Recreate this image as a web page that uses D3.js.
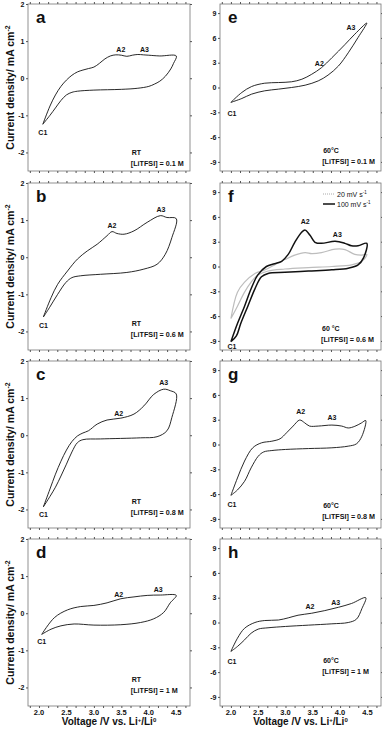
<!DOCTYPE html>
<html>
<head>
<meta charset="utf-8">
<title>CV panels</title>
<script src="https://cdn.jsdelivr.net/npm/d3@7/dist/d3.min.js"></script>
<style>
  body { margin: 0; background: #fff; }
  svg text { font-family: "Liberation Sans", Arial, sans-serif; font-weight: bold; fill: #111; }
</style>
</head>
<body>
<svg id="chart" width="382" height="729"></svg>
<script>
// ---- data: [voltage, current] ----
// RT panels (mA cm-2)
var aFwd = [[2.07,-1.24],[2.2,-0.75],[2.3,-0.45],[2.4,-0.22],[2.5,-0.05],[2.6,0.08],[2.7,0.17],[2.8,0.22],[2.9,0.26],[3.0,0.3],[3.1,0.4],[3.2,0.52],[3.3,0.6],[3.4,0.63],[3.5,0.62],[3.6,0.59],[3.7,0.62],[3.8,0.64],[3.9,0.63],[4.0,0.62],[4.2,0.6],[4.5,0.6]];
var aRev = [[4.45,0.4],[4.4,0.25],[4.3,0.05],[4.2,-0.08],[4.1,-0.16],[4.0,-0.22],[3.8,-0.27],[3.5,-0.3],[3.0,-0.32],[2.7,-0.35],[2.6,-0.38],[2.5,-0.45],[2.4,-0.6],[2.3,-0.8],[2.2,-1.0]];

var bFwd = [[2.08,-1.61],[2.22,-1.09],[2.34,-0.73],[2.52,-0.37],[2.7,-0.05],[2.88,0.17],[3.06,0.35],[3.24,0.58],[3.33,0.69],[3.42,0.64],[3.55,0.62],[3.73,0.71],[3.97,0.94],[4.21,1.12],[4.33,1.07],[4.5,1.04]];
var bRev = [[4.42,0.53],[4.3,0.08],[4.15,-0.19],[3.91,-0.32],[3.6,-0.41],[3.12,-0.46],[2.76,-0.5],[2.6,-0.55],[2.49,-0.68],[2.34,-1.0],[2.19,-1.36]];

var cFwd = [[2.08,-1.93],[2.2,-1.45],[2.3,-1.05],[2.4,-0.7],[2.5,-0.4],[2.6,-0.17],[2.7,-0.02],[2.8,0.06],[2.9,0.12],[3.06,0.3],[3.24,0.41],[3.49,0.46],[3.73,0.57],[3.91,0.79],[4.09,1.1],[4.27,1.24],[4.39,1.2],[4.5,1.11]];
var cRev = [[4.42,0.48],[4.33,0.12],[4.15,-0.04],[3.85,-0.07],[3.12,-0.1],[2.8,-0.12],[2.7,-0.2],[2.6,-0.45],[2.5,-0.78],[2.4,-1.1],[2.3,-1.4],[2.2,-1.65]];

var dFwd = [[2.05,-0.57],[2.28,-0.12],[2.52,0.09],[2.76,0.18],[3.0,0.21],[3.24,0.28],[3.49,0.39],[3.73,0.44],[3.97,0.48],[4.21,0.49],[4.5,0.48]];
var dRev = [[4.39,0.28],[4.27,0.02],[4.09,-0.15],[3.85,-0.25],[3.49,-0.31],[3.0,-0.32],[2.64,-0.29],[2.4,-0.34],[2.22,-0.43]];

// 60 °C panels
var eFwd = [[2.0,-1.8],[2.2,-0.6],[2.38,0.12],[2.62,0.52],[2.87,0.6],[3.11,0.69],[3.3,1.0],[3.48,1.6],[3.66,2.4],[3.85,3.6],[4.09,5.2],[4.27,6.45],[4.49,7.8]];
var eRev = [[4.33,6.05],[4.15,4.2],[3.97,2.6],[3.78,1.5],[3.6,0.8],[3.36,0.28],[3.11,0.0],[2.87,-0.2],[2.62,-0.4],[2.38,-0.8],[2.2,-1.33]];

var fFwd = [[2.0,-9.1],[2.12,-6.9],[2.25,-4.8],[2.37,-2.7],[2.49,-1.05],[2.65,0.0],[2.8,0.33],[2.93,0.63],[3.05,1.46],[3.17,2.93],[3.3,4.18],[3.36,4.4],[3.45,3.77],[3.54,2.93],[3.66,2.8],[3.91,3.05],[4.09,2.8],[4.21,2.5],[4.33,2.5],[4.49,2.8]];
var fRev = [[4.43,1.05],[4.33,0.2],[4.15,-0.2],[3.85,-0.4],[3.42,-0.55],[2.99,-0.7],[2.68,-0.84],[2.56,-1.25],[2.44,-2.7],[2.31,-4.8],[2.18,-6.9],[2.1,-8.4]];
// 20 mV s-1 trace in panel f
var fSlowFwd = [[2.0,-6.3],[2.12,-3.1],[2.25,-1.9],[2.44,-0.84],[2.62,-0.42],[2.8,0.2],[2.99,0.84],[3.17,1.38],[3.36,1.67],[3.48,1.55],[3.66,1.67],[3.91,2.1],[4.09,2.05],[4.27,1.46],[4.4,1.38],[4.49,1.46]];
var fSlowRev = [[4.4,0.63],[4.21,0.2],[3.85,0.0],[3.42,-0.13],[2.99,-0.3],[2.68,-0.54],[2.49,-1.05],[2.37,-1.9],[2.25,-3.1],[2.12,-4.8]];

var gFwd = [[2.0,-6.15],[2.12,-4.05],[2.25,-2.0],[2.4,-0.4],[2.56,0.2],[2.75,0.4],[2.9,0.69],[3.02,1.42],[3.14,2.23],[3.26,2.96],[3.35,2.63],[3.44,2.23],[3.6,2.23],[3.85,2.35],[4.03,2.23],[4.15,2.0],[4.27,2.2],[4.39,2.6],[4.47,2.9]];
var gRev = [[4.4,1.0],[4.3,0.08],[4.15,-0.2],[3.85,-0.4],[3.42,-0.49],[3.0,-0.6],[2.75,-0.73],[2.6,-0.9],[2.5,-1.42],[2.37,-2.83],[2.25,-4.45],[2.12,-5.5]];

var hFwd = [[2.0,-3.5],[2.12,-1.9],[2.25,-0.7],[2.44,0.0],[2.62,0.24],[2.87,0.3],[3.05,0.56],[3.23,0.88],[3.48,1.12],[3.72,1.44],[3.97,1.84],[4.21,2.3],[4.47,3.0]];
var hRev = [[4.4,1.68],[4.3,0.4],[4.15,0.0],[3.85,-0.16],[3.42,-0.32],[3.0,-0.48],[2.68,-0.64],[2.5,-0.8],[2.37,-1.3],[2.25,-2.1],[2.12,-2.9]];

// tick labels
var xTicks = [2.0, 2.5, 3.0, 3.5, 4.0, 4.5];
var rtTicks = [-2, -1, 0, 1, 2];
var hotTicks = [-9, -6, -3, 0, 3, 6, 9];

// ---- layout ----
var svg = d3.select("#chart");
var colX = [28, 220], colW = [162, 161];
var rowY = [4, 183, 361, 539], panelH = 167;

var panels = [
  {id: "a", col: 0, row: 0, fwd: aFwd, rev: aRev, cond: "RT", conc: "0.1 M", c1: [2.07, -1.52], a2: [3.49, 0.72], a3: [3.92, 0.72], note: [3.69, -2.07]},
  {id: "b", col: 0, row: 1, fwd: bFwd, rev: bRev, cond: "RT", conc: "0.6 M", c1: [2.08, -1.9], a2: [3.33, 0.8], a3: [4.22, 1.22], note: [3.69, -1.85]},
  {id: "c", col: 0, row: 2, fwd: cFwd, rev: cRev, cond: "RT", conc: "0.8 M", c1: [2.08, -2.2], a2: [3.45, 0.52], a3: [4.27, 1.34], note: [3.69, -1.85]},
  {id: "d", col: 0, row: 3, fwd: dFwd, rev: dRev, cond: "RT", conc: "1 M", c1: [2.05, -0.83], a2: [3.45, 0.45], a3: [4.17, 0.58], note: [3.69, -1.85]},
  {id: "e", col: 1, row: 0, fwd: eFwd, rev: eRev, cond: "60°C", conc: "0.1 M", c1: [2.02, -3.4], a2: [3.62, 2.6], a3: [4.2, 6.9], note: [3.69, -7.92]},
  {id: "f", col: 1, row: 1, fwd: fFwd, rev: fRev, cond: "60 °C", conc: "0.6 M", c1: [2.02, -10.0], a2: [3.36, 5.2], a3: [3.95, 3.6], note: [3.67, -7.8]},
  {id: "g", col: 1, row: 2, fwd: gFwd, rev: gRev, cond: "60°C", conc: "0.8 M", c1: [2.02, -7.6], a2: [3.28, 3.7], a3: [3.85, 3.0], note: [3.69, -7.68]},
  {id: "h", col: 1, row: 3, fwd: hFwd, rev: hRev, cond: "60°C", conc: "1 M", c1: [2.02, -5.0], a2: [3.45, 1.6], a3: [3.92, 2.1], note: [3.69, -4.9]}
];

var line = d3.line().curve(d3.curveCatmullRom.alpha(0.5));
// minor x ticks: two between each labelled 0.5 V step
var minorX = d3.range(-1, 17).map(function(i) { return 2 + i / 6; });

panels.forEach(function(p) {
  var x0 = colX[p.col], w = colW[p.col], y0 = rowY[p.row];
  var hot = p.col === 1;
  var x = d3.scaleLinear().domain([1.8, 4.75]).range([x0, x0 + w]);
  var y = d3.scaleLinear().domain(hot ? [-10.1, 10.1] : [-2.5, 2]).range([y0 + panelH, y0]);
  var g = svg.append("g");

  // frame
  g.append("rect").attr("x", x0).attr("y", y0).attr("width", w).attr("height", panelH)
    .attr("fill", "none").attr("stroke", "#777").attr("stroke-width", 0.8);

  // bottom / top ticks
  g.append("g").attr("transform", "translate(0," + (y0 + panelH) + ")").call(d3.axisBottom(x).tickValues(minorX).tickSize(2).tickFormat(""))
    .call(function(s) { s.select(".domain").remove(); s.selectAll("line").attr("stroke", "#555"); });
  g.append("g").attr("transform", "translate(0," + y0 + ")").call(d3.axisTop(x).tickValues(minorX).tickSize(2).tickFormat(""))
    .call(function(s) { s.select(".domain").remove(); s.selectAll("line").attr("stroke", "#555"); });

  // left axis
  var yAx = d3.axisLeft(y).tickValues(hot ? hotTicks : rtTicks).tickSize(2).tickPadding(1.5)
    .tickFormat(function(d) { return d; });
  g.append("g").attr("transform", "translate(" + x0 + ",0)").call(yAx)
    .call(function(s) {
      s.select(".domain").remove();
      s.selectAll("line").attr("stroke", "#555");
      s.selectAll("text").style("font-size", "7px").style("font-family", "Liberation Sans, Arial, sans-serif").style("font-weight", "bold");
    });
  g.append("g").attr("transform", "translate(" + (x0 + w) + ",0)").call(d3.axisRight(y).tickValues(hot ? hotTicks : rtTicks).tickSize(2).tickFormat(""))
    .call(function(s) { s.select(".domain").remove(); s.selectAll("line").attr("stroke", "#555"); });

  // x tick labels only on bottom row
  if (p.row === 3) {
    g.selectAll(".xl").data(xTicks).enter().append("text")
      .attr("x", function(d) { return x(d); })
      .attr("y", y0 + panelH + 9)
      .attr("text-anchor", "middle")
      .style("font-size", "7.5px")
      .text(function(d) { return d.toFixed(1); });
    var xl = g.append("text").attr("x", x0 + w / 2).attr("y", y0 + panelH + 18.5)
      .attr("text-anchor", "middle").style("font-size", "10px");
    xl.append("tspan").text("Voltage /V vs. Li");
    xl.append("tspan").attr("dy", -3).style("font-size", "6px").text("+");
    xl.append("tspan").attr("dy", 3).text("/Li");
    xl.append("tspan").attr("dy", -3).style("font-size", "6px").text("0");
  }

  // y title only on left column
  if (!hot) {
    var yt = g.append("text")
      .attr("transform", "translate(" + 14 + "," + (y0 + panelH / 2) + ") rotate(-90)")
      .attr("text-anchor", "middle").style("font-size", "10.5px");
    yt.append("tspan").text("Current density/ mA cm");
    yt.append("tspan").attr("dy", -4).style("font-size", "7px").text("-2");
  }

  // slow scan trace (panel f only)
  if (p.id === "f") {
    g.append("path").attr("d", line(fSlowFwd.concat(fSlowRev, [fSlowFwd[0]]).map(function(d) { return [x(d[0]), y(d[1])]; })))
      .attr("fill", "none").attr("stroke", "#bdbdbd").attr("stroke-width", 1.2);
  }

  // CV loop
  var loop = p.fwd.concat(p.rev, [p.fwd[0]]);
  g.append("path").attr("d", line(loop.map(function(d) { return [x(d[0]), y(d[1])]; })))
    .attr("fill", "none").attr("stroke", "#111").attr("stroke-width", p.id === "f" ? 1.5 : 0.9);

  // panel letter
  g.append("text").attr("x", x0 + 8).attr("y", y0 + 19).style("font-size", "17px").text(p.id);

  // peak labels
  [["C1", p.c1], ["A2", p.a2], ["A3", p.a3]].forEach(function(l) {
    g.append("text").attr("x", x(l[1][0])).attr("y", y(l[1][1]))
      .attr("text-anchor", "middle").style("font-size", "7px").text(l[0]);
  });

  // condition note
  g.append("text").attr("x", x(p.note[0])).attr("y", y(p.note[1]))
    .style("font-size", "7px").text(p.cond);
  g.append("text").attr("x", x(p.note[0]) - 1).attr("y", y(p.note[1]) + 11)
    .style("font-size", "7.2px").text("[LiTFSI] = " + p.conc);

  // legend in panel f
  if (p.id === "f") {
    var lx = x0 + 103, ly = y0 + 11;
    g.append("line").attr("x1", lx).attr("x2", lx + 12).attr("y1", ly).attr("y2", ly)
      .attr("stroke", "#aaa").attr("stroke-width", 1).attr("stroke-dasharray", "1,1");
    g.append("line").attr("x1", lx).attr("x2", lx + 12).attr("y1", ly + 10).attr("y2", ly + 10)
      .attr("stroke", "#111").attr("stroke-width", 1.5);
    [["20 mV s", ly], ["100 mV s", ly + 10]].forEach(function(t) {
      var tx = g.append("text").attr("x", lx + 14).attr("y", t[1] + 2.5).style("font-size", "7px").style("font-weight", "normal");
      tx.append("tspan").text(t[0]);
      tx.append("tspan").attr("dy", -2.5).style("font-size", "4.5px").text("-1");
    });
  }
});
</script>
</body>
</html>
